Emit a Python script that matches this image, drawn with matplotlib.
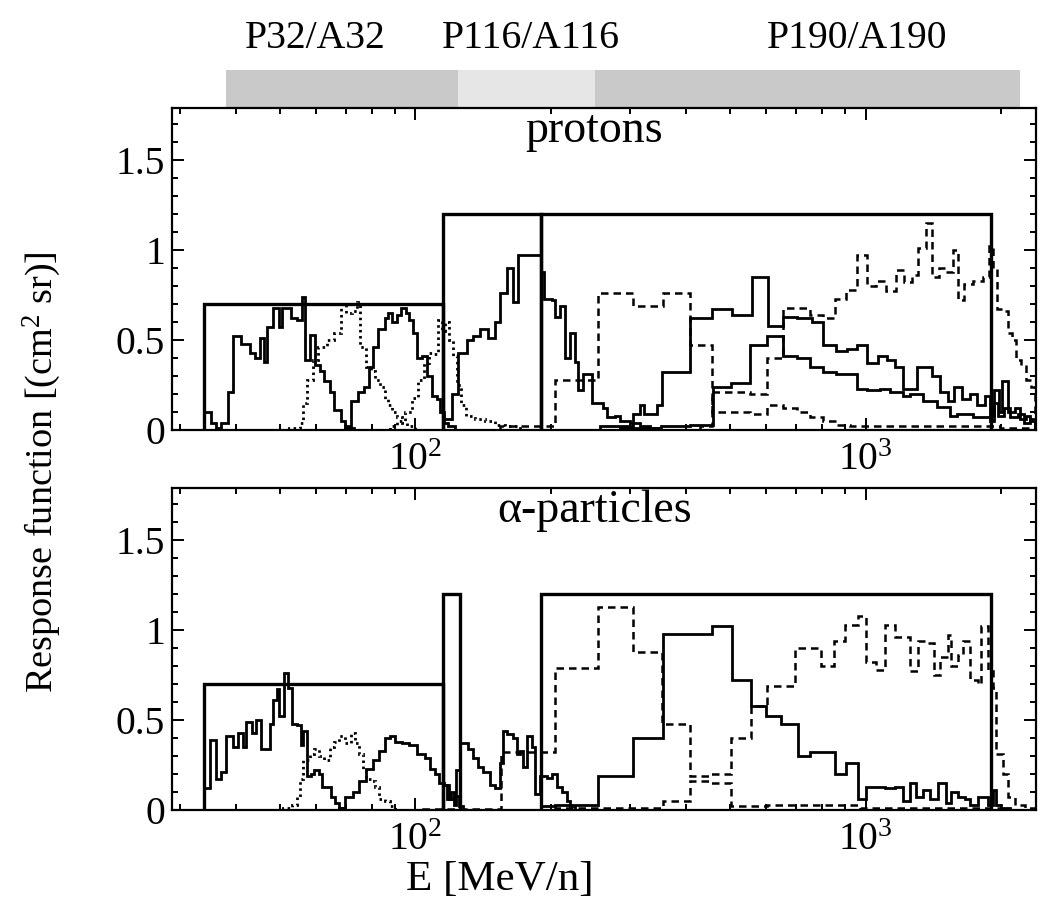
import numpy as np
import matplotlib
matplotlib.use('Agg')
import matplotlib.pyplot as plt
from matplotlib.ticker import FixedLocator, MultipleLocator, FuncFormatter, NullFormatter

plt.rcParams['font.family'] = ['Liberation Serif', 'DejaVu Serif']
plt.rcParams['mathtext.fontset'] = 'custom'
plt.rcParams['mathtext.rm'] = 'Liberation Serif'
plt.rcParams['mathtext.it'] = 'Liberation Serif:italic'

# ---- nominal geometric factors (boxes), E in MeV/n ----
box_p_E = [[33.9, 115.4], [115.4, 190.2], [190.2, 1900.]]
box_p_G = [0.70, 1.20, 1.20]
box_a_E = [[33.9, 115.4], [115.4, 125.8], [190.2, 1900.]]
box_a_G = [0.70, 1.20, 1.20]

# ---- header: energy ranges of the three detectors ----
hdr_E = [37.9, 124.5, 250.8, 2197.]
hdr_lab = ['P32/A32', 'P116/A116', 'P190/A190']
hdr_pos = [59.9, 180.2, 959.]

# ---- protons ----
p1_E = [33.9, 35.1, 36.0, 37.0, 38.4, 39.3, 41.0, 42.9, 44.0, 45.1, 46.2, 46.9, 48.2, 49.7,
        50.5, 52.8, 54.7, 55.9, 57.0, 58.2, 59.9, 61.5, 62.8, 64.5, 66.1, 68.2, 69.9, 73.2]
p1_R = [0.10, 0.04, 0.01, 0.04, 0.21, 0.52, 0.48, 0.43, 0.40, 0.51, 0.38, 0.57, 0.68, 0.57,
        0.68, 0.62, 0.61, 0.74, 0.39, 0.53, 0.36, 0.33, 0.27, 0.21, 0.11, 0.05, 0.01]

p2_E = [69.9, 71.8, 74.4, 76.7, 78.7, 80.3, 82.8, 85.4, 87.1, 88.9, 91.2, 93.1, 95.5, 97.0,
        99.0, 101.0, 103.6, 106.3, 109.1, 111.9, 113.6, 116.0, 118.4, 122.7]
p2_R = [0.02, 0.16, 0.21, 0.24, 0.35, 0.46, 0.56, 0.62, 0.65, 0.60, 0.64, 0.68, 0.65, 0.61,
        0.54, 0.40, 0.41, 0.30, 0.19, 0.17, 0.10, 0.04, 0.02]

p3_E = [115.4, 120.8, 124.6, 130.4, 134.5, 139.4, 145.2, 150.5, 154.3, 160.1, 165.1, 169.2,
        190.2, 193.1, 201.3, 204.4, 209.7, 215.2, 220.7, 226.3, 229.9, 236.0, 247.0, 261.3,
        266.5, 277.7, 285.0, 300.0, 315.6, 332.0, 349.5]
p3_R = [0.06, 0.20, 0.43, 0.50, 0.52, 0.56, 0.51, 0.60, 0.76, 0.90, 0.71, 0.97,
        0.88, 0.73, 0.72, 0.63, 0.69, 0.40, 0.54, 0.38, 0.22, 0.31, 0.15, 0.12,
        0.07, 0.08, 0.05, 0.04, 0.02, 0.01]

p4_E = [257.3, 304.7, 315.6, 322.1, 344.2, 353.1, 407.4, 455.9, 504.9, 559.3, 606.9, 654.8,
        702.6, 759.8, 803.6, 859.2, 906.9, 956.3, 1006, 1064, 1118, 1162, 1209, 1299, 1402,
        1461, 1522, 1575, 1634, 1702, 1765, 1838, 1885, 1931, 1979, 2012, 2076, 2142, 2197,
        2265, 2312, 2383]
p4_R = [0.02, 0.09, 0.14, 0.09, 0.14, 0.32, 0.62, 0.67, 0.64, 0.85, 0.58, 0.63, 0.62, 0.60,
        0.47, 0.44, 0.45, 0.47, 0.37, 0.41, 0.39, 0.35, 0.23, 0.35, 0.30, 0.21, 0.16, 0.24,
        0.17, 0.20, 0.14, 0.19, 0.08, 0.22, 0.10, 0.27, 0.10, 0.12, 0.06, 0.08, 0.05]

p5_E = [285.0, 351.3, 407.4, 458.2, 502.5, 553.6, 603.9, 654.8, 702.6, 752.0, 803.6, 859.2,
        956.3, 1006, 1075, 1132, 1209, 1253, 1340, 1439, 1537, 1594, 1728, 1885, 1924, 1964,
        2026, 2088, 2175, 2243, 2312, 2383]
p5_R = [0.01, 0.02, 0.03, 0.24, 0.26, 0.47, 0.52, 0.41, 0.40, 0.35, 0.32, 0.31, 0.23, 0.22,
        0.23, 0.21, 0.19, 0.20, 0.16, 0.13, 0.08, 0.09, 0.07, 0.05, 0.15, 0.08, 0.12, 0.07,
        0.09, 0.04, 0.06]

# dotted (intermediate P32 channels)
pd1_E = [52.3, 55.3, 56.2, 57.3, 59.1, 60.9, 63.5, 66.1, 68.5, 70.3, 72.2, 74.0, 75.5, 77.5,
         79.5, 81.5, 83.6, 85.4, 87.1, 88.9, 91.2, 93.6, 96.0, 100.0]
pd1_R = [0.01, 0.04, 0.15, 0.28, 0.39, 0.46, 0.50, 0.54, 0.70, 0.65, 0.66, 0.71, 0.46, 0.35,
         0.33, 0.28, 0.24, 0.17, 0.14, 0.10, 0.07, 0.04, 0.02]
pd2_E = [88.0, 91.2, 95.0, 98.5, 101.5, 104.7, 107.4, 110.2, 112.5, 114.8, 116.6, 119.0,
         121.4, 124.0, 126.5, 129.8, 135.9, 143.0, 150.5, 158.4, 171.0]
pd2_R = [0.02, 0.05, 0.10, 0.18, 0.28, 0.37, 0.43, 0.42, 0.61, 0.55, 0.60, 0.50, 0.41,
         0.25, 0.14, 0.08, 0.06, 0.05, 0.03, 0.02]

# dashed (P116 / P190 high-energy channels)
ph1_E = [154.3, 204.4, 254.7, 304.7, 355.0, 407.4, 455.9, 553.6, 603.9, 654.8, 702.6, 752.0,
         803.6, 859.2, 922.7, 1984, 2383]
ph1_R = [0.02, 0.28, 0.76, 0.69, 0.76, 0.47, 0.10, 0.09, 0.14, 0.12, 0.10, 0.07, 0.05, 0.03,
         0.02, 0.01]
ph2_E = [428.8, 455.9, 553.6, 603.9, 654.8, 752.0, 803.6, 855.0, 904.2, 956.3, 1006, 1053,
         1109, 1167, 1215, 1266, 1306, 1361, 1402, 1453, 1506, 1561, 1601, 1652, 1728, 1818,
         1875, 1914, 1954, 2016, 2067, 2109, 2153, 2208, 2265, 2324, 2383]
ph2_R = [0.02, 0.21, 0.20, 0.40, 0.68, 0.64, 0.62, 0.73, 0.78, 0.97, 0.80, 0.83, 0.77, 0.89,
         0.82, 0.86, 1.01, 1.15, 0.85, 0.90, 0.88, 1.00, 0.72, 0.81, 0.83, 0.85, 1.02, 0.90,
         0.67, 0.66, 0.54, 0.50, 0.39, 0.36, 0.28, 0.24]

# ---- alpha particles ----
a1_E = [33.9, 34.9, 36.0, 37.0, 38.0, 39.3, 40.3, 41.4, 42.0, 43.3, 44.2, 45.3, 47.5, 48.2,
        49.2, 49.9, 51.0, 52.0, 53.1, 54.7, 55.6, 56.4, 57.3, 58.5, 59.6, 61.2, 62.1, 64.8,
        66.4, 67.8, 69.9]
a1_R = [0.12, 0.39, 0.17, 0.21, 0.41, 0.35, 0.43, 0.35, 0.49, 0.43, 0.50, 0.34, 0.48, 0.61,
        0.67, 0.52, 0.76, 0.68, 0.48, 0.47, 0.36, 0.44, 0.19, 0.20, 0.22, 0.20, 0.13, 0.07,
        0.04, 0.01]

a2_E = [67.5, 69.9, 72.5, 75.1, 77.5, 80.3, 83.2, 85.8, 88.0, 90.3, 93.6, 97.0, 101.0, 105.2,
        108.0, 110.7, 113.0, 116.0, 119.0, 122.1, 125.2, 127.8]
a2_R = [0.01, 0.07, 0.10, 0.16, 0.23, 0.28, 0.33, 0.40, 0.41, 0.38, 0.37, 0.36, 0.31, 0.29,
        0.23, 0.20, 0.15, 0.14, 0.06, 0.08, 0.02]

a3_E = [115.4, 117.8, 120.2, 122.1, 123.3, 125.8, 131.0, 134.5, 138.0, 141.5, 146.7, 150.5,
        154.3, 156.7, 160.0, 165.1, 168.3, 171.0, 173.6, 177.2, 181.9, 184.7, 189.3, 196.2,
        201.3, 206.5, 211.9, 217.3, 220.7, 226.3]
a3_R = [0.14, 0.06, 0.10, 0.03, 0.22, 0.37, 0.34, 0.29, 0.24, 0.21, 0.14, 0.12, 0.26, 0.44,
        0.42, 0.40, 0.31, 0.33, 0.24, 0.41, 0.35, 0.09, 0.19, 0.18, 0.20, 0.13, 0.10, 0.05,
        0.02]

a4_E = [190.2, 204.4, 254.7, 304.7, 355.0, 455.9, 504.9, 556.5, 600.8, 648.3, 707.3, 752.0,
        811.9, 855.0, 904.2, 961.2, 1001, 1103, 1161, 1209, 1253, 1293, 1340, 1388, 1446,
        1506, 1545, 1601, 1660, 1702, 1774, 1866, 1914, 1944, 1994, 2088]
a4_R = [0.02, 0.03, 0.19, 0.40, 0.98, 1.02, 0.72, 0.58, 0.52, 0.48, 0.30, 0.32, 0.32, 0.20,
        0.26, 0.06, 0.13, 0.12, 0.13, 0.05, 0.15, 0.07, 0.11, 0.06, 0.15, 0.04, 0.10, 0.07,
        0.06, 0.03, 0.07, 0.03, 0.11, 0.03, 0.01]

ad1_E = [50.7, 53.3, 54.7, 55.3, 56.2, 58.2, 59.6, 61.2, 62.8, 64.5, 66.1, 67.8, 69.9, 71.8,
         73.6, 75.1, 76.3, 77.5, 79.5, 81.5, 83.2, 85.8, 88.0, 90.3]
ad1_R = [0.01, 0.03, 0.07, 0.17, 0.28, 0.31, 0.34, 0.30, 0.28, 0.35, 0.38, 0.41, 0.37, 0.43,
         0.37, 0.31, 0.22, 0.17, 0.16, 0.13, 0.06, 0.05, 0.02]

ah1_E = [104.2, 155.1, 204.4, 254.7, 304.7, 353.1, 407.4, 451.3, 502.5, 556.5, 603.9, 697.8,
         795.5, 850.6, 899.5, 961.2, 1001, 1053, 1103, 1161, 1253, 1306, 1374, 1416, 1461,
         1522, 1545, 1601, 1643, 1702, 1774, 1801, 1866, 1914, 1944, 2016, 2067, 2142, 2254,
         2383]
ah1_R = [0.005, 0.32, 0.79, 1.13, 0.88, 0.48, 0.19, 0.20, 0.40, 0.58, 0.69, 0.90, 0.80, 0.94,
         1.03, 1.08, 0.82, 0.78, 1.03, 0.96, 0.77, 0.94, 0.93, 0.75, 0.85, 0.97, 0.80, 0.86,
         0.94, 0.72, 0.70, 1.02, 0.77, 0.68, 0.31, 0.20, 0.07, 0.03, 0.01]
ah2_E = [204.4, 355.0, 407.4, 451.3, 502.5, 603.9, 971.0, 1984]
ah2_R = [0.01, 0.05, 0.16, 0.15, 0.02, 0.03, 0.01]

xlim = (28.8, 2390.)
ylim = (0., 1.79)

dotted = (0, (0.9, 1.3))
dashed = (0, (3.0, 2.0))

fig = plt.figure(figsize=(10.38, 8.98), dpi=100)
axh = fig.add_axes([0.1657, 0.8808, 0.8324, 0.1192])
ax1 = fig.add_axes([0.1657, 0.5212, 0.8324, 0.3586])
ax2 = fig.add_axes([0.1657, 0.0980, 0.8324, 0.3586])

# header bars
axh.set_xscale('log')
axh.set_xlim(*xlim)
axh.set_ylim(0, 107)
axh.axis('off')
cols = ['#c9c9c9', '#e6e6e6', '#c9c9c9']
for i in range(3):
    axh.axvspan(hdr_E[i], hdr_E[i+1], ymin=0.0, ymax=37/107., color=cols[i], lw=0)
    axh.text(hdr_pos[i], 69, hdr_lab[i], ha='center', va='center', fontsize=28.5)


def draw_panel(ax, boxes_E, boxes_G, solids, dots, dashes, label):
    ax.set_xscale('log')
    for (e0, e1), g in zip(boxes_E, boxes_G):
        ax.stairs([g], [e0, e1], baseline=0, color='k', lw=2.4)
    for e, r in solids:
        ax.stairs(r, e, baseline=0, color='k', lw=2.0)
    for e, r in dots:
        ax.stairs(r, e, baseline=0, color='k', lw=2.0, linestyle=dotted)
    for e, r in dashes:
        ax.stairs(r, e, baseline=0, color='k', lw=1.8, linestyle=dashed)
    ax.set_xlim(*xlim)
    ax.set_ylim(*ylim)
    ax.xaxis.set_major_locator(FixedLocator([100., 1000.]))
    ax.xaxis.set_minor_locator(FixedLocator([30, 40, 50, 60, 70, 80, 90,
                                             200, 300, 400, 500, 600, 700, 800, 900, 2000]))
    ax.xaxis.set_major_formatter(FuncFormatter(
        lambda v, p: r'$\mathregular{10^{%d}}$' % int(round(np.log10(v)))))
    ax.xaxis.set_minor_formatter(NullFormatter())
    ax.yaxis.set_major_locator(MultipleLocator(0.5))
    ax.yaxis.set_minor_locator(MultipleLocator(0.1))
    ax.yaxis.set_major_formatter(FuncFormatter(lambda v, p: '%g' % v))
    ax.tick_params(which='both', direction='in', top=True, right=True, width=1.4)
    ax.tick_params(which='major', length=8.5, labelsize=28.5)
    ax.tick_params(which='minor', length=4.3)
    ax.tick_params(axis='x', pad=9)
    ax.tick_params(axis='y', pad=5)
    for s in ax.spines.values():
        s.set_linewidth(1.6)
    ax.text(0.489, 0.93, label, transform=ax.transAxes, ha='center', va='center',
            fontsize=33)


draw_panel(ax1, box_p_E, box_p_G,
           [(p1_E, p1_R), (p2_E, p2_R), (p3_E, p3_R), (p4_E, p4_R), (p5_E, p5_R)],
           [(pd1_E, pd1_R), (pd2_E, pd2_R)],
           [(ph1_E, ph1_R), (ph2_E, ph2_R)],
           'protons')
draw_panel(ax2, box_a_E, box_a_G,
           [(a1_E, a1_R), (a2_E, a2_R), (a3_E, a3_R), (a4_E, a4_R)],
           [(ad1_E, ad1_R)],
           [(ah1_E, ah1_R), (ah2_E, ah2_R)],
           '\u03b1-particles')

fig.text(42/1038., 1 - 472/898., 'Response function [(cm$^{\\mathregular{2}}$ sr)]',
         rotation=90, ha='center', va='center', fontsize=27.5)
fig.text(500/1038., 1 - 880/898., 'E [MeV/n]', ha='center', va='center', fontsize=31)

fig.savefig('out.png', dpi=100)
